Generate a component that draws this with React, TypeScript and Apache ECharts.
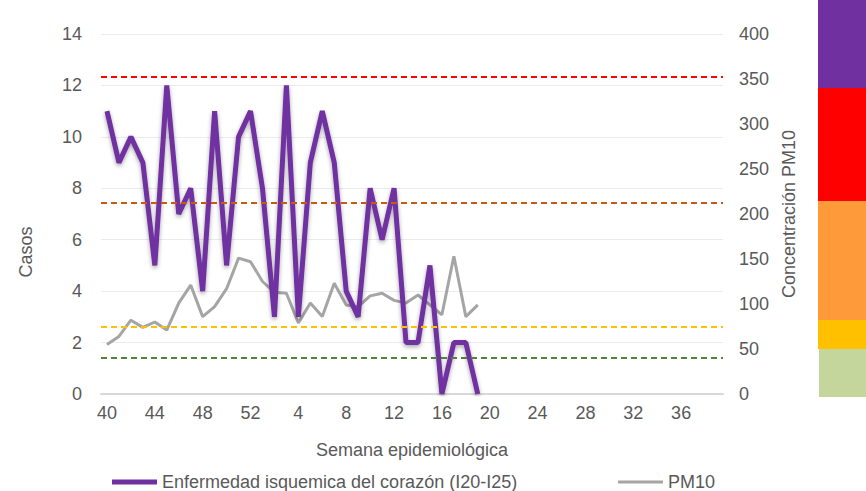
import React, { useEffect, useRef } from "react";
import * as echarts from "echarts";

const weeks: string[] = [
  "40", "41", "42", "43", "44", "45", "46", "47", "48", "49", "50", "51", "52",
  "1", "2", "3", "4", "5", "6", "7", "8", "9", "10", "11", "12", "13", "14", "15", "16", "17", "18", "19",
  "20", "21", "22", "23", "24", "25", "26", "27", "28", "29", "30", "31", "32", "33", "34", "35", "36", "37", "38", "39",
];

const cases: number[] = [
  11, 9, 10, 9, 5, 12, 7, 8, 4, 11, 5, 10, 11,
  8, 3, 12, 3, 9, 11, 9, 4, 3, 8, 6, 8, 2, 2, 5, 0, 2, 2, 0,
];

const pm10: number[] = [
  55, 64, 82, 74, 80, 71, 101, 121, 86, 97, 117, 151, 147,
  125, 113, 112, 79, 101, 86, 123, 99, 97, 109, 112, 104, 101, 110, 99, 88, 153, 86, 99,
];

const thresholds: { value: number; color: string }[] = [
  { value: 40, color: "#548235" },
  { value: 75, color: "#FFC000" },
  { value: 213, color: "#C55A11" },
  { value: 352, color: "#FF0000" },
];

const FONT = "Liberation Sans";
const TXT = "#595959";

export default function App() {
  const ref = useRef<HTMLDivElement>(null);
  useEffect(() => {
    if (!ref.current) return;
    const chart = echarts.init(ref.current, null, { renderer: "svg" });
    chart.setOption({
      animation: false,
      textStyle: { fontFamily: FONT },
      grid: { left: 101, right: 143, top: 34, bottom: 97 },
      legend: [
        {
          left: 107,
          top: 468,
          icon: "rect",
          itemWidth: 45,
          itemHeight: 5,
          itemGap: 4,
          data: ["Enfermedad isquemica del corazón (I20-I25)"],
          textStyle: { fontFamily: FONT, fontSize: 18, color: TXT },
        },
        {
          left: 613,
          top: 468,
          icon: "rect",
          itemWidth: 45,
          itemHeight: 3,
          data: ["PM10"],
          textStyle: { fontFamily: FONT, fontSize: 18, color: TXT },
        },
      ],
      xAxis: {
        type: "category",
        data: weeks,
        boundaryGap: true,
        name: "Semana epidemiológica",
        nameLocation: "middle",
        nameGap: 47,
        nameTextStyle: { fontFamily: FONT, fontSize: 18, color: TXT },
        axisLine: { lineStyle: { color: "#D9D9D9", width: 2 } },
        axisTick: { show: false },
        axisLabel: { interval: 3, margin: 10, fontSize: 18, color: TXT, fontFamily: FONT },
      },
      yAxis: [
        {
          type: "value",
          min: 0,
          max: 14,
          interval: 2,
          axisLine: { show: false },
          axisTick: { show: false },
          axisLabel: { margin: 19, fontSize: 18, color: TXT, fontFamily: FONT },
          splitLine: { lineStyle: { color: "#EBEBEB", width: 1 } },
        },
        {
          type: "value",
          min: 0,
          max: 400,
          interval: 50,
          position: "right",
          name: "Concentración PM10",
          nameLocation: "middle",
          nameGap: 57,
          nameTextStyle: { fontFamily: FONT, fontSize: 18, color: TXT },
          axisLine: { show: false },
          axisTick: { show: false },
          axisLabel: { margin: 16, fontSize: 18, color: TXT, fontFamily: FONT },
          splitLine: { show: false },
        },
      ],
      series: [
        {
          name: "PM10",
          type: "line",
          yAxisIndex: 1,
          data: pm10,
          symbol: "none",
          z: 2,
          lineStyle: { color: "#A5A5A5", width: 3 },
          itemStyle: { color: "#A5A5A5" },
          markLine: {
            silent: true,
            symbol: "none",
            label: { show: false },
            data: thresholds.map((t) => ({
              yAxis: t.value,
              lineStyle: { color: t.color, type: [6, 4], width: 2 },
            })),
          },
        },
        {
          name: "Enfermedad isquemica del corazón (I20-I25)",
          type: "line",
          yAxisIndex: 0,
          data: cases,
          symbol: "none",
          z: 3,
          lineStyle: {
            color: "#7030A0",
            width: 5,
            shadowColor: "rgba(0,0,0,0.35)",
            shadowBlur: 4,
            shadowOffsetY: 2,
          },
          itemStyle: { color: "#7030A0" },
        },
      ],
      graphic: [
        {
          type: "text",
          x: 26,
          y: 252,
          rotation: Math.PI / 2,
          style: {
            text: "Casos",
            fontFamily: FONT,
            fontSize: 18,
            fill: TXT,
            align: "center",
            verticalAlign: "middle",
          },
        },
        { type: "rect", shape: { x: 818, y: 0, width: 48, height: 88 }, style: { fill: "#7030A0" } },
        { type: "rect", shape: { x: 818, y: 88, width: 48, height: 113 }, style: { fill: "#FF0000" } },
        { type: "rect", shape: { x: 818, y: 201, width: 48, height: 119 }, style: { fill: "#FF9A3A" } },
        { type: "rect", shape: { x: 818, y: 320, width: 48, height: 29 }, style: { fill: "#FFC000" } },
        { type: "rect", shape: { x: 819, y: 349, width: 47, height: 48 }, style: { fill: "#C4D69C" } },
      ],
    });
    return () => chart.dispose();
  }, []);
  return <div ref={ref} style={{ width: 866, height: 491, position: "absolute", left: 0, top: 0 }} />;
}
